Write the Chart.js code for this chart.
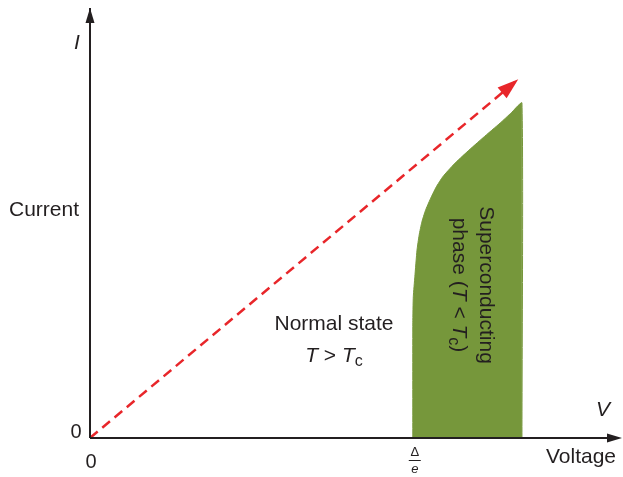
<!DOCTYPE html>
<html>
<head>
<meta charset="utf-8">
<script src="https://cdn.jsdelivr.net/npm/chart.js@4.4.1/dist/chart.umd.min.js"></script>
<style>
  html, body { margin: 0; padding: 0; background: #ffffff; }
  #wrap { width: 623px; height: 477px; position: relative; }
</style>
</head>
<body>
<div id="wrap"><canvas id="ivChart"></canvas></div>
<script>
// axis ranges (arbitrary units)
const voltageMax = 10;
const currentMax = 10;
const gapVoltage = 6.09;

// superconducting phase boundary
const superVoltage = [6.09, 6.09, 6.10, 6.13, 6.17, 6.21, 6.26, 6.33, 6.42, 6.53, 6.66, 6.87, 7.11, 7.42, 7.74, 7.95, 8.15, 8.15];
const superCurrent = [0, 2.69, 3.30, 3.78, 4.39, 4.74, 5.04, 5.32, 5.58, 5.86, 6.11, 6.40, 6.68, 7.02, 7.36, 7.60, 7.83, 0];

// normal state line
const normalVoltage = [0, 8.08];
const normalCurrent = [0, 8.38];

const axisColor = "#231f20";
const textColor = "#231f20";
const fontFamily = "'Liberation Sans', Arial, sans-serif";
const labelSize = 21;

function toPoints(xs, ys) {
  return xs.map((x, i) => ({ x, y: ys[i] }));
}

function drawArrowHead(ctx, tipX, tipY, angle, length, halfWidth, color) {
  ctx.save();
  ctx.translate(tipX, tipY);
  ctx.rotate(angle);
  ctx.beginPath();
  ctx.moveTo(0, 0);
  ctx.lineTo(-length, -halfWidth);
  ctx.lineTo(-length, halfWidth);
  ctx.closePath();
  ctx.fillStyle = color;
  ctx.fill();
  ctx.restore();
}

// draws a sequence of [text, style] pieces starting at x, returns end x
function drawPieces(ctx, pieces, x, y, size) {
  let cursor = x;
  pieces.forEach(([text, style]) => {
    const italic = style === "i" ? "italic " : "";
    const pieceSize = style === "sub" ? Math.round(size * 0.75) : size;
    const dy = style === "sub" ? size * 0.28 : 0;
    ctx.font = `${italic}${pieceSize}px ${fontFamily}`;
    ctx.fillText(text, cursor, y + dy);
    cursor += ctx.measureText(text).width;
  });
  return cursor;
}

function piecesWidth(ctx, pieces, size) {
  let total = 0;
  pieces.forEach(([text, style]) => {
    const italic = style === "i" ? "italic " : "";
    const pieceSize = style === "sub" ? Math.round(size * 0.75) : size;
    ctx.font = `${italic}${pieceSize}px ${fontFamily}`;
    total += ctx.measureText(text).width;
  });
  return total;
}

const annotationPlugin = {
  id: "annotations",
  afterDatasetsDraw(chart) {
    const ctx = chart.ctx;
    const xScale = chart.scales.x;
    const yScale = chart.scales.y;
    const x0 = xScale.getPixelForValue(0);
    const y0 = yScale.getPixelForValue(0);
    const xEnd = xScale.getPixelForValue(voltageMax);
    const yEnd = yScale.getPixelForValue(currentMax);

    // axes
    ctx.save();
    ctx.strokeStyle = axisColor;
    ctx.lineWidth = 2;
    ctx.beginPath();
    ctx.moveTo(x0, y0);
    ctx.lineTo(x0, yEnd - 2);
    ctx.moveTo(x0, y0);
    ctx.lineTo(xEnd - 4, y0);
    ctx.stroke();
    drawArrowHead(ctx, x0, yEnd - 2, -Math.PI / 2, 15, 4.5, axisColor);
    drawArrowHead(ctx, xEnd + 2, y0, 0, 15, 4.5, axisColor);

    // arrow on normal state line
    const linePoints = chart.getDatasetMeta(1).data;
    const start = linePoints[0];
    const end = linePoints[linePoints.length - 1];
    const angle = Math.atan2(end.y - start.y, end.x - start.x);
    drawArrowHead(ctx, end.x, end.y, angle, 21, 7, "#e8262a");

    // texts
    ctx.fillStyle = textColor;
    ctx.textBaseline = "middle";

    ctx.textAlign = "left";
    ctx.font = `${labelSize}px ${fontFamily}`;
    ctx.fillText("Current", 9, 210);

    ctx.textAlign = "center";
    ctx.font = `italic ${labelSize}px ${fontFamily}`;
    ctx.fillText("I", x0 - 13, 43);
    ctx.fillText("V", xEnd - 17, 410);

    ctx.font = `20px ${fontFamily}`;
    ctx.fillText("0", x0 - 14, y0 - 6);
    ctx.fillText("0", x0 + 1, y0 + 24);
    ctx.font = `${labelSize}px ${fontFamily}`;
    ctx.fillText("Voltage", xEnd - 39, y0 + 19);

    // gap label
    const gapX = xScale.getPixelForValue(gapVoltage) + 2;
    ctx.font = `13px ${fontFamily}`;
    ctx.fillText("\u0394", gapX, y0 + 14);
    ctx.font = `italic 13px ${fontFamily}`;
    ctx.fillText("e", gapX, y0 + 31);
    ctx.lineWidth = 1;
    ctx.beginPath();
    ctx.moveTo(gapX - 6, y0 + 22.5);
    ctx.lineTo(gapX + 6, y0 + 22.5);
    ctx.stroke();

    // normal state label
    ctx.font = `${labelSize}px ${fontFamily}`;
    ctx.fillText("Normal state", 334, 324);
    ctx.textAlign = "left";
    const normalPieces = [["T", "i"], [" > ", "r"], ["T", "i"], ["c", "sub"]];
    const nw = piecesWidth(ctx, normalPieces, labelSize);
    drawPieces(ctx, normalPieces, 334 - nw / 2, 356, labelSize);

    // superconducting label, rotated
    ctx.save();
    ctx.translate(486, 285);
    ctx.rotate(Math.PI / 2);
    ctx.textAlign = "center";
    ctx.font = `${labelSize}px ${fontFamily}`;
    ctx.fillText("Superconducting", 0, 0);
    ctx.restore();

    ctx.save();
    ctx.translate(459, 285);
    ctx.rotate(Math.PI / 2);
    ctx.textAlign = "left";
    const phasePieces = [["phase (", "r"], ["T", "i"], [" < ", "r"], ["T", "i"], ["c", "sub"], [")", "r"]];
    const pw = piecesWidth(ctx, phasePieces, labelSize);
    drawPieces(ctx, phasePieces, -pw / 2, 0, labelSize);
    ctx.restore();

    ctx.restore();
  }
};

const ctx = document.getElementById("ivChart").getContext("2d");

new Chart(ctx, {
  type: "scatter",
  data: {
    datasets: [
      {
        label: "Superconducting phase",
        data: toPoints(superVoltage, superCurrent),
        showLine: true,
        fill: "origin",
        backgroundColor: "#76973b",
        borderColor: "#76973b",
        borderWidth: 1,
        pointRadius: 0,
        tension: 0.15
      },
      {
        label: "Normal state",
        data: toPoints(normalVoltage, normalCurrent),
        showLine: true,
        fill: false,
        borderColor: "#e8262a",
        borderWidth: 2.5,
        borderDash: [10, 6],
        pointRadius: 0
      }
    ]
  },
  options: {
    responsive: true,
    maintainAspectRatio: false,
    animation: false,
    layout: {
      padding: { left: 90, right: 3, top: 10, bottom: 39 }
    },
    plugins: {
      legend: { display: false },
      tooltip: { enabled: false }
    },
    scales: {
      x: { type: "linear", min: 0, max: voltageMax, display: false },
      y: { type: "linear", min: 0, max: currentMax, display: false }
    }
  },
  plugins: [annotationPlugin]
});
</script>
</body>
</html>
